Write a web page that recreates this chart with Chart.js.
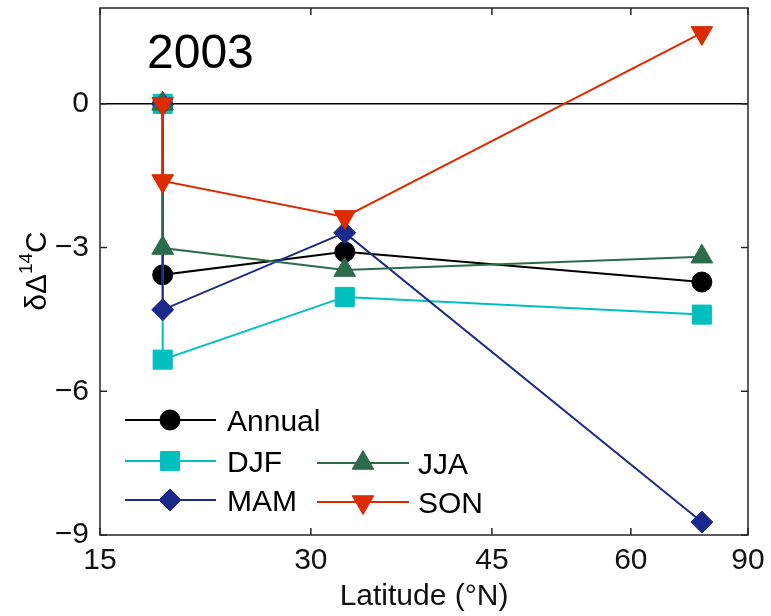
<!DOCTYPE html>
<html>
<head>
<meta charset="utf-8">
<script src="https://cdn.jsdelivr.net/npm/chart.js@4.4.0/dist/chart.umd.min.js"></script>
<style>
  html, body { margin: 0; padding: 0; background: #fff; }
  #wrap { width: 771px; height: 616px; }
</style>
</head>
<body>
<div id="wrap"><canvas id="c" width="771" height="616"></canvas></div>
<script>
// stations (deg N) -- each series starts at 0 at the reference station
const latitudes = [19.3, 19.3, 32.6, 71.3];
const annual = [0, -3.57, -3.09, -3.72];
const djf = [0, -5.34, -4.03, -4.40];
const mam = [0, -4.30, -2.69, -8.73];
const jja = [0, -3.01, -3.47, -3.19];
const son = [0, -1.61, -2.36, 1.48];
const xTicks = [15, 30, 45, 60, 90];
const yTicks = [-9, -6, -3, 0];

const FONT = '"Liberation Sans", Arial, sans-serif';

// x axis is spaced by sin(latitude)
const sinDeg = d => Math.sin(d * Math.PI / 180);
class SinLatScale extends Chart.LinearScale {
  getPixelForValue(value) {
    const a = sinDeg(this.min), b = sinDeg(this.max);
    return this.getPixelForDecimal((sinDeg(value) - a) / (b - a));
  }
  getValueForPixel(pixel) {
    const a = sinDeg(this.min), b = sinDeg(this.max);
    return Math.asin(a + this.getDecimalForPixel(pixel) * (b - a)) * 180 / Math.PI;
  }
}
SinLatScale.id = 'sinlat';
SinLatScale.defaults = Chart.LinearScale.defaults;
Chart.register(SinLatScale);

const pts = vals => latitudes.map((x, i) => ({ x: x, y: vals[i] }));
const series = (label, vals, color, style, radius, rot, order) => ({
  label: label,
  data: pts(vals),
  borderColor: color,
  backgroundColor: color,
  borderWidth: 2,
  pointStyle: style,
  pointRadius: radius,
  pointRotation: rot,
  pointBackgroundColor: color,
  pointBorderColor: color,
  pointBorderWidth: 1,
  order: order,
  clip: false
});

const datasets = [
  series('Annual', annual, '#000000', 'circle', 10, 0, 5),
  series('DJF', djf, '#00BFBF', 'rect', 13.5, 0, 4),
  series('MAM', mam, '#1C2A8C', 'rectRot', 11, 0, 3),
  series('JJA', jja, '#2C6B4B', 'triangle', 12.5, 0, 2),
  series('SON', son, '#DD2A00', 'triangle', 12.5, 180, 1)
];

const decor = {
  id: 'decor',
  beforeDatasetsDraw(chart) {
    const { ctx, chartArea: a, scales: { y } } = chart;
    ctx.save();
    // zero line
    ctx.strokeStyle = '#000';
    ctx.lineWidth = 1.5;
    ctx.beginPath();
    ctx.moveTo(a.left, y.getPixelForValue(0));
    ctx.lineTo(a.right, y.getPixelForValue(0));
    ctx.stroke();
    ctx.restore();
  },
  afterDatasetsDraw(chart) {
    const { ctx, chartArea: a, scales: { x, y } } = chart;
    ctx.save();
    // box + inward ticks
    ctx.strokeStyle = '#262626';
    ctx.lineWidth = 1.5;
    ctx.strokeRect(a.left, a.top, a.right - a.left, a.bottom - a.top);
    ctx.beginPath();
    xTicks.forEach(v => {
      const px = x.getPixelForValue(v);
      ctx.moveTo(px, a.bottom); ctx.lineTo(px, a.bottom - 7);
      ctx.moveTo(px, a.top); ctx.lineTo(px, a.top + 7);
    });
    yTicks.forEach(v => {
      const py = y.getPixelForValue(v);
      ctx.moveTo(a.left, py); ctx.lineTo(a.left + 7, py);
      ctx.moveTo(a.right, py); ctx.lineTo(a.right - 7, py);
    });
    ctx.stroke();

    // year label
    ctx.fillStyle = '#000';
    ctx.font = '48px ' + FONT;
    ctx.textBaseline = 'middle';
    ctx.textAlign = 'left';
    ctx.fillText('2003', a.left + 47, 55);

    // y title with superscript
    ctx.translate(36, 271);
    ctx.rotate(-Math.PI / 2);
    const big = '30px ' + FONT, small = '19px ' + FONT;
    ctx.font = big; const w1 = ctx.measureText('\u03B4\u0394').width, w3 = ctx.measureText('C').width;
    ctx.font = small; const w2 = ctx.measureText('14').width;
    let sx = -(w1 + w2 + w3) / 2;
    ctx.textAlign = 'left';
    ctx.textBaseline = 'alphabetic';
    ctx.font = big; ctx.fillText('\u03B4\u0394', sx, 10); sx += w1;
    ctx.font = small; ctx.fillText('14', sx, -4); sx += w2;
    ctx.font = big; ctx.fillText('C', sx, 10);
    ctx.restore();

    // legend (two-column layout of the original)
    const cols = [{ x0: 125, x1: 216, m: 170, t: 227 }, { x0: 317, x1: 409, m: 363, t: 418 }];
    const rows = [420, 461, 500];
    const items = [[0, 0, 0], [1, 0, 1], [3, 1, 1], [2, 0, 2], [4, 1, 2]];
    ctx.save();
    items.forEach(([di, ci, ri]) => {
      const ds = chart.data.datasets[di];
      const c = cols[ci];
      const yy = rows[ri] + (ci === 1 ? 2 : 0);
      ctx.strokeStyle = ds.borderColor;
      ctx.lineWidth = ds.borderWidth;
      ctx.beginPath();
      ctx.moveTo(c.x0, yy); ctx.lineTo(c.x1, yy);
      ctx.stroke();
      ctx.fillStyle = ds.pointBackgroundColor;
      ctx.lineWidth = ds.pointBorderWidth;
      Chart.helpers.drawPoint(ctx, {
        pointStyle: ds.pointStyle, radius: ds.pointRadius,
        rotation: ds.pointRotation, borderWidth: ds.pointBorderWidth
      }, c.m, yy);
      ctx.fillStyle = '#000';
      ctx.font = '30px ' + FONT;
      ctx.textAlign = 'left';
      ctx.textBaseline = 'middle';
      ctx.fillText(ds.label, c.t, yy + 3);
    });
    ctx.restore();
  }
};

new Chart(document.getElementById('c'), {
  type: 'line',
  data: { datasets: datasets },
  options: {
    responsive: false,
    animation: false,
    events: [],
    layout: { autoPadding: false, padding: { left: 0, right: 23, top: 8, bottom: 0 } },
    plugins: { legend: { display: false }, tooltip: { enabled: false } },
    scales: {
      x: {
        type: 'sinlat',
        min: 15,
        max: 90,
        grid: { display: false, drawTicks: false },
        border: { display: false },
        afterBuildTicks: axis => { axis.ticks = xTicks.map(v => ({ value: v })); },
        afterFit: axis => { axis.height = 81; axis.paddingLeft = 0; axis.paddingRight = 0; },
        ticks: {
          autoSkip: false, maxRotation: 0, padding: 8, color: '#111',
          font: { family: FONT, size: 30 }
        },
        title: {
          display: true, text: 'Latitude (\u00B0N)', color: '#111', padding: { top: 0, bottom: 1 },
          font: { family: FONT, size: 30 }
        }
      },
      y: {
        type: 'linear',
        min: -9,
        max: 2,
        grid: { display: false, drawTicks: false },
        border: { display: false },
        afterBuildTicks: axis => { axis.ticks = yTicks.map(v => ({ value: v })); },
        afterFit: axis => { axis.width = 100; axis.paddingTop = 0; axis.paddingBottom = 0; },
        ticks: {
          padding: 11, color: '#111',
          font: { family: FONT, size: 30 },
          callback: v => (v < 0 ? '\u2212' + Math.abs(v) : String(v))
        }
      }
    }
  },
  plugins: [decor]
});
</script>
</body>
</html>
